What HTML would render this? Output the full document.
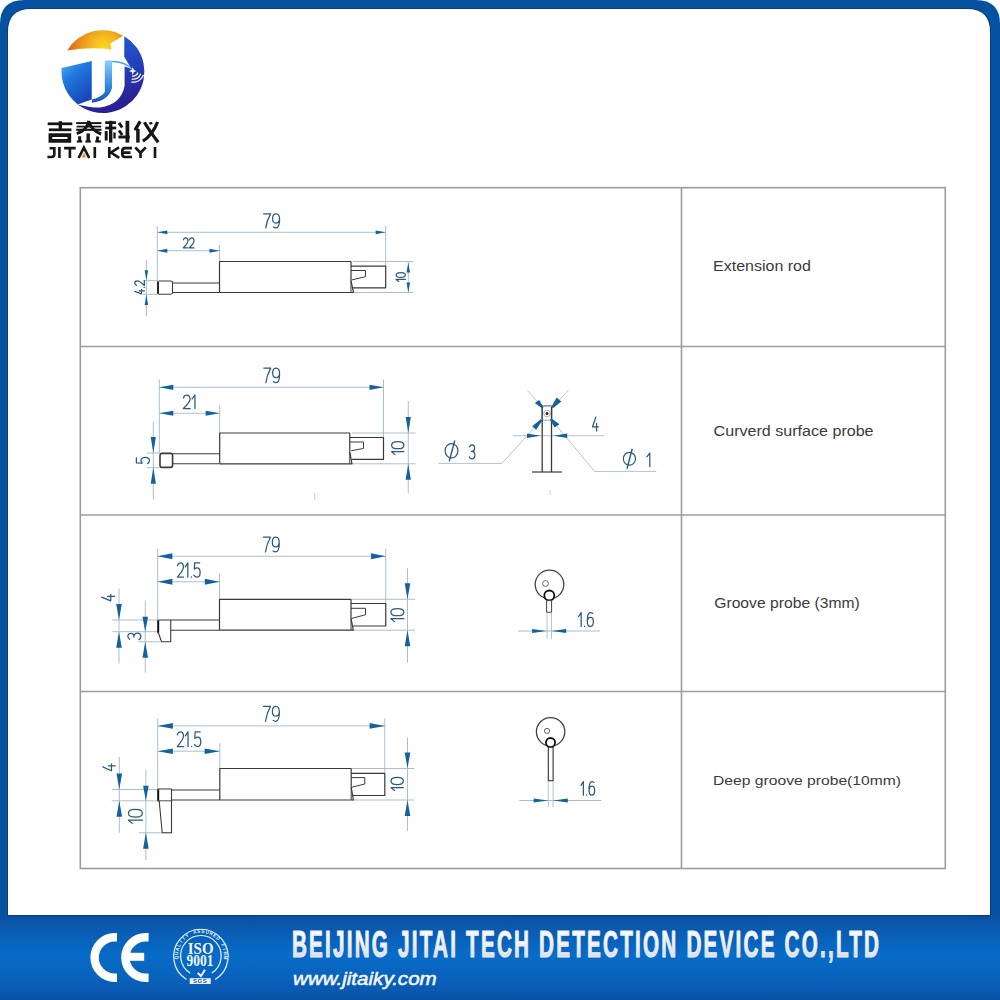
<!DOCTYPE html>
<html><head><meta charset="utf-8"><title>Probes</title>
<style>
html,body{margin:0;padding:0;width:1000px;height:1000px;overflow:hidden;background:#ffffff}
svg{display:block;position:absolute;left:0;top:0}
text{font-family:"Liberation Sans",sans-serif}
</style></head><body>
<svg width="1000" height="1000" viewBox="0 0 1000 1000">
<defs>
<linearGradient id="ban" x1="0" y1="0" x2="0" y2="1">
<stop offset="0" stop-color="#0a50a0"/><stop offset="0.12" stop-color="#0a58ad"/><stop offset="0.47" stop-color="#076cc8"/><stop offset="0.75" stop-color="#0962bb"/><stop offset="1" stop-color="#0a52a6"/>
</linearGradient>
<linearGradient id="silver" x1="0" y1="0" x2="0" y2="1">
<stop offset="0" stop-color="#ffffff"/><stop offset="0.5" stop-color="#f2f3f6"/><stop offset="1" stop-color="#cfd3dc"/>
</linearGradient>
<linearGradient id="lgblue" x1="0" y1="0" x2="1" y2="1">
<stop offset="0" stop-color="#3aa0ec"/><stop offset="0.45" stop-color="#1f6fd6"/><stop offset="1" stop-color="#2b2a9e"/>
</linearGradient>
<linearGradient id="lgL" x1="0" y1="0" x2="0.6" y2="1">
<stop offset="0" stop-color="#4fb0f2"/><stop offset="0.4" stop-color="#1f78dc"/><stop offset="1" stop-color="#1848b8"/>
</linearGradient>
<linearGradient id="lgM" x1="0" y1="0" x2="0" y2="1">
<stop offset="0" stop-color="#8ccff8"/><stop offset="0.6" stop-color="#2f88e0"/><stop offset="1" stop-color="#1b4fbf"/>
</linearGradient>
<linearGradient id="lgR" x1="0" y1="0" x2="0.3" y2="1">
<stop offset="0" stop-color="#1a66d6"/><stop offset="0.5" stop-color="#2346c0"/><stop offset="1" stop-color="#2a1f95"/>
</linearGradient>
<radialGradient id="lgorange" gradientUnits="userSpaceOnUse" cx="104" cy="48" r="42">
<stop offset="0" stop-color="#f8de1a"/><stop offset="0.3" stop-color="#f4b81e"/><stop offset="0.6" stop-color="#ec8e1c"/><stop offset="1" stop-color="#d2451a"/>
</radialGradient>
</defs>

<path d="M0 24 Q0 0 24 0 L976 0 Q1000 0 1000 24 L1000 1000 L0 1000 Z" fill="#0652a1"/>
<rect x="0" y="915" width="1000" height="85" fill="url(#ban)"/>
<rect x="8" y="915" width="982" height="1.2" fill="#083f80"/>
<path d="M7 32 Q7 8 31 8 L967 8 Q991 8 991 32 L991 916 L7 916 Z" fill="#0a4078"/>
<path d="M8 32 Q8 9 31 9 L967 9 Q990 9 990 32 L990 915 L8 915 Z" fill="#ffffff"/>
<rect x="80.3" y="187.7" width="865" height="680.8" fill="none" stroke="#9c9c9c" stroke-width="1.6"/>
<line x1="80.3" y1="346.5" x2="945.3" y2="346.5" stroke="#9c9c9c" stroke-width="1.6"/>
<line x1="80.3" y1="515" x2="945.3" y2="515" stroke="#9c9c9c" stroke-width="1.6"/>
<line x1="80.3" y1="691.5" x2="945.3" y2="691.5" stroke="#9c9c9c" stroke-width="1.6"/>
<line x1="681.5" y1="188" x2="681.5" y2="868.5" stroke="#9c9c9c" stroke-width="1.6"/>
<text transform="translate(713.12 270.86) scale(1.1104 1)" font-size="14.422" font-weight="normal" font-style="normal" fill="#3b3b3b" >Extension rod</text>
<text transform="translate(713.6 435.6) scale(1.0607 1)" font-size="15.172" font-weight="normal" font-style="normal" fill="#3b3b3b" >Curverd surface probe</text>
<text transform="translate(714.21 608.4) scale(1.0350 1)" font-size="15.172" font-weight="normal" font-style="normal" fill="#3b3b3b" >Groove probe (3mm)</text>
<text transform="translate(713.05 785.3) scale(1.1474 1)" font-size="13.655" font-weight="normal" font-style="normal" fill="#3b3b3b" >Deep groove probe(10mm)</text>
<line x1="157.3" y1="226" x2="157.3" y2="294.5" stroke="#9fb8cc" stroke-width="0.9"/>
<line x1="219.5" y1="245" x2="219.5" y2="261.5" stroke="#9fb8cc" stroke-width="0.9"/>
<line x1="385.7" y1="226" x2="385.7" y2="266.5" stroke="#9fb8cc" stroke-width="0.9"/>
<line x1="157.3" y1="232.3" x2="385.7" y2="232.3" stroke="#9fb8cc" stroke-width="0.9"/>
<path d="M157.3 232.3 L167.3 230.4 L167.3 234.2 Z" fill="#14619f"/>
<path d="M385.7 232.3 L375.7 230.4 L375.7 234.2 Z" fill="#14619f"/>
<path d="M 263.62 213.82 L 270.62 213.82 C 267.82 218.74 266.42 222.96 265.72 227.88 M 273.42 227.03 C 274.33 227.73 275.24 227.88 275.94 227.88 C 278.32 227.88 279.57 224.36 279.57 219.44 C 279.57 215.93 278.32 213.82 276.08 213.82 C 273.84 213.82 272.58 215.93 272.58 218.60 C 272.58 221.41 273.84 223.10 275.94 223.10 C 277.83 223.10 279.23 221.41 279.44 219.44" fill="none" stroke="#2b5a7c" stroke-width="1.25" stroke-linecap="round" stroke-linejoin="round"/>
<line x1="157.3" y1="250.75" x2="219.5" y2="250.75" stroke="#9fb8cc" stroke-width="0.9"/>
<path d="M157.3 250.75 L167.3 248.85 L167.3 252.65 Z" fill="#14619f"/>
<path d="M219.5 250.75 L209.5 248.85 L209.5 252.65 Z" fill="#14619f"/>
<path d="M 183.42 239.88 C 183.89 238.07 184.98 237.88 185.68 237.88 C 187.10 237.88 187.95 239.07 187.95 240.88 C 187.95 242.88 186.63 244.07 183.32 247.88 L 188.04 247.88 M 189.45 239.88 C 189.93 238.07 191.01 237.88 191.72 237.88 C 193.13 237.88 193.98 239.07 193.98 240.88 C 193.98 242.88 192.66 244.07 189.36 247.88 L 194.07 247.88" fill="none" stroke="#2b5a7c" stroke-width="1.25" stroke-linecap="round" stroke-linejoin="round"/>
<line x1="146.4" y1="259.8" x2="146.4" y2="316.5" stroke="#9fb8cc" stroke-width="0.9"/>
<line x1="143" y1="280.6" x2="157.3" y2="280.6" stroke="#9fb8cc" stroke-width="0.9"/>
<line x1="143" y1="294.3" x2="157.3" y2="294.3" stroke="#9fb8cc" stroke-width="0.9"/>
<path d="M146.4 280.3 L144.65 270.3 L148.15 270.3 Z" fill="#14619f"/>
<path d="M146.4 294.6 L144.65 305.1 L148.15 305.1 Z" fill="#14619f"/>
<g transform="translate(134.72 294.18) rotate(-90)">
<circle cx="6.72" cy="9.45" r="0.75" fill="#2b5a7c"/>
<path d="M 2.82 0.00 L 0.38 6.76 L 4.70 6.76 M 3.39 4.34 L 3.39 9.65 M 8.84 1.93 C 9.31 0.19 10.39 0.00 11.10 0.00 C 12.51 0.00 13.36 1.16 13.36 2.90 C 13.36 4.83 12.04 5.98 8.75 9.65 L 13.45 9.65" fill="none" stroke="#2b5a7c" stroke-width="1.25" stroke-linecap="round" stroke-linejoin="round"/>
</g>
<line x1="408.3" y1="261.5" x2="408.3" y2="292.5" stroke="#9fb8cc" stroke-width="0.9"/>
<line x1="353" y1="261.5" x2="413.5" y2="261.5" stroke="#9fb8cc" stroke-width="0.9"/>
<line x1="353" y1="292.5" x2="413.5" y2="292.5" stroke="#9fb8cc" stroke-width="0.9"/>
<path d="M408.3 262.5 L406.55 272.5 L410.05 272.5 Z" fill="#14619f"/>
<path d="M408.3 292.5 L406.55 282.5 L410.05 282.5 Z" fill="#14619f"/>
<g transform="translate(396.12 281.38) rotate(-90)">
<path d="M 0.00 2.59 L 1.97 0.00 L 1.97 9.25 M 6.36 0.00 C 4.21 0.00 3.97 2.77 3.97 4.62 C 3.97 6.47 4.21 9.25 6.36 9.25 C 8.51 9.25 8.75 6.47 8.75 4.62 C 8.75 2.77 8.51 0.00 6.36 0.00 Z" fill="none" stroke="#2b5a7c" stroke-width="1.25" stroke-linecap="round" stroke-linejoin="round"/>
</g>
<path d="M219.5 292.5 L219.5 261.5 L351 261.5 L351 281 L353.5 292.5 L219.5 292.5" stroke="#3a3a3a" stroke-width="1.2" fill="none" stroke-linejoin="round"/>
<line x1="351" y1="281" x2="351" y2="292.5" stroke="#3a3a3a" stroke-width="1.0"/>
<path d="M351 266.2 L385.7 266.2 L385.7 287.8 L352.5 287.8" stroke="#3a3a3a" stroke-width="1.2" fill="none" stroke-linejoin="round"/>
<path d="M351 270.5 L365.5 270.5 L365.5 276.7 L351.5 280" stroke="#3a3a3a" stroke-width="1.0" fill="none" stroke-linejoin="round"/>
<line x1="172.5" y1="283" x2="219.5" y2="283" stroke="#3a3a3a" stroke-width="1.1"/>
<line x1="172.5" y1="292.5" x2="219.5" y2="292.5" stroke="#3a3a3a" stroke-width="1.1"/>
<rect x="157.6" y="281" width="14.9" height="13.2" rx="1.6" fill="#fff" stroke="#3a3a3a" stroke-width="1.1"/>
<line x1="158.2" y1="282" x2="158.2" y2="293.4" stroke="#222" stroke-width="1.6"/>
<line x1="159.3" y1="379.5" x2="159.3" y2="453" stroke="#9fb8cc" stroke-width="0.9"/>
<line x1="219.7" y1="405" x2="219.7" y2="433" stroke="#9fb8cc" stroke-width="0.9"/>
<line x1="383.5" y1="379.5" x2="383.5" y2="437.5" stroke="#9fb8cc" stroke-width="0.9"/>
<line x1="159.3" y1="387.3" x2="383.5" y2="387.3" stroke="#9fb8cc" stroke-width="0.9"/>
<path d="M159.3 387.3 L173.3 384.7 L173.3 389.9 Z" fill="#14619f"/>
<path d="M383.5 387.3 L369.5 384.7 L369.5 389.9 Z" fill="#14619f"/>
<path d="M 263.82 368.12 L 270.73 368.12 C 267.97 373.18 266.59 377.52 265.90 382.57 M 273.50 381.71 C 274.39 382.43 275.29 382.57 275.98 382.57 C 278.33 382.57 279.57 378.96 279.57 373.90 C 279.57 370.29 278.33 368.12 276.12 368.12 C 273.91 368.12 272.67 370.29 272.67 373.04 C 272.67 375.93 273.91 377.66 275.98 377.66 C 277.85 377.66 279.23 375.93 279.44 373.90" fill="none" stroke="#2b5a7c" stroke-width="1.25" stroke-linecap="round" stroke-linejoin="round"/>
<line x1="159.3" y1="413.25" x2="219.7" y2="413.25" stroke="#9fb8cc" stroke-width="0.9"/>
<path d="M159.3 413.25 L173.3 410.65 L173.3 415.85 Z" fill="#14619f"/>
<path d="M219.7 413.25 L205.7 410.65 L205.7 415.85 Z" fill="#14619f"/>
<path d="M 183.46 397.81 C 184.15 395.39 185.73 395.12 186.75 395.12 C 188.81 395.12 190.05 396.74 190.05 399.16 C 190.05 401.85 188.13 403.46 183.32 408.57 L 190.18 408.57 M 192.10 398.89 L 194.93 395.12 L 194.93 408.57" fill="none" stroke="#2b5a7c" stroke-width="1.25" stroke-linecap="round" stroke-linejoin="round"/>
<line x1="153.3" y1="421.5" x2="153.3" y2="499.5" stroke="#9fb8cc" stroke-width="0.9"/>
<line x1="147" y1="453" x2="159.5" y2="453" stroke="#9fb8cc" stroke-width="0.9"/>
<line x1="147" y1="467.7" x2="159.5" y2="467.7" stroke="#9fb8cc" stroke-width="0.9"/>
<path d="M153.3 453 L150.7 437 L155.9 437 Z" fill="#14619f"/>
<path d="M153.3 467.7 L150.7 483.7 L155.9 483.7 Z" fill="#14619f"/>
<g transform="translate(136.38 463.62) rotate(-90)">
<path d="M 5.75 0.00 L 0.75 0.00 L 0.38 5.72 C 1.56 4.81 2.50 4.68 3.25 4.68 C 5.31 4.68 6.25 6.50 6.25 8.84 C 6.25 11.44 5.00 13.00 3.12 13.00 C 1.88 13.00 0.75 12.48 0.00 11.18" fill="none" stroke="#2b5a7c" stroke-width="1.25" stroke-linecap="round" stroke-linejoin="round"/>
</g>
<line x1="408.25" y1="401" x2="408.25" y2="493.5" stroke="#9fb8cc" stroke-width="0.9"/>
<line x1="352" y1="433" x2="415.75" y2="433" stroke="#9fb8cc" stroke-width="0.9"/>
<line x1="352" y1="463.8" x2="415.75" y2="463.8" stroke="#9fb8cc" stroke-width="0.9"/>
<path d="M408.25 433 L405.65 417 L410.85 417 Z" fill="#14619f"/>
<path d="M408.25 463.8 L405.65 479.8 L410.85 479.8 Z" fill="#14619f"/>
<g transform="translate(391.62 454.62) rotate(-90)">
<path d="M 0.00 3.43 L 2.93 0.00 L 2.93 12.25 M 9.45 0.00 C 6.25 0.00 5.90 3.67 5.90 6.12 C 5.90 8.57 6.25 12.25 9.45 12.25 C 12.64 12.25 13.00 8.57 13.00 6.12 C 13.00 3.67 12.64 0.00 9.45 0.00 Z" fill="none" stroke="#2b5a7c" stroke-width="1.25" stroke-linecap="round" stroke-linejoin="round"/>
</g>
<path d="M219.7 463.8 L219.7 433 L349.75 433 L349.75 452 L352 463.8 L219.7 463.8" stroke="#3a3a3a" stroke-width="1.2" fill="none" stroke-linejoin="round"/>
<line x1="349.75" y1="452" x2="349.75" y2="463.8" stroke="#3a3a3a" stroke-width="1.0"/>
<path d="M349.75 437.5 L383.5 437.5 L383.5 459.3 L351.5 459.3" stroke="#3a3a3a" stroke-width="1.2" fill="none" stroke-linejoin="round"/>
<path d="M349.75 442 L363.5 442 L363.5 448.5 L351.2 450.75" stroke="#3a3a3a" stroke-width="1.0" fill="none" stroke-linejoin="round"/>
<line x1="172.5" y1="453.75" x2="219.7" y2="453.75" stroke="#3a3a3a" stroke-width="1.1"/>
<line x1="172.5" y1="463.8" x2="219.7" y2="463.8" stroke="#3a3a3a" stroke-width="1.1"/>
<rect x="160" y="453.4" width="12.6" height="14" rx="2.2" fill="#fff" stroke="#3a3a3a" stroke-width="1.6"/>
<line x1="314.8" y1="492.75" x2="314.8" y2="500" stroke="#c8c8c8" stroke-width="1"/>
<line x1="527.5" y1="390.5" x2="542.5" y2="407.5" stroke="#b0b8bc" stroke-width="0.8"/>
<line x1="568.5" y1="390" x2="552.5" y2="407.5" stroke="#b0b8bc" stroke-width="0.8"/>
<line x1="541.5" y1="420" x2="502" y2="463.3" stroke="#a9bcc8" stroke-width="0.9"/>
<line x1="551" y1="419" x2="594.6" y2="471.4" stroke="#a9bcc8" stroke-width="0.9"/>
<line x1="438.5" y1="463.4" x2="502" y2="463.4" stroke="#a9bcc8" stroke-width="0.9"/>
<line x1="594.6" y1="471.4" x2="656.2" y2="471.4" stroke="#a9bcc8" stroke-width="0.9"/>
<line x1="512.8" y1="435.7" x2="604.2" y2="435.7" stroke="#a9bcc8" stroke-width="0.9"/>
<line x1="532" y1="472" x2="562" y2="472" stroke="#3a3a3a" stroke-width="1.2"/>
<rect x="541.8" y="405.8" width="10.2" height="14.4" rx="1.5" fill="#fff" stroke="#9a9a9a" stroke-width="0.9"/>
<line x1="542" y1="405.8" x2="552" y2="405.8" stroke="#999" stroke-width="1.6"/>
<circle cx="547" cy="413.5" r="3.3" fill="none" stroke="#999" stroke-width="0.8"/>
<circle cx="547" cy="413.5" r="1.5" fill="#222"/>
<line x1="542.2" y1="407" x2="542.2" y2="472" stroke="#3a3a3a" stroke-width="1.3"/>
<line x1="551.5" y1="407" x2="551.5" y2="472" stroke="#3a3a3a" stroke-width="1.3"/>
<path d="M541.94 408.33 L534.84 403.04 L539.16 399.96 L543.56 407.17 Z" fill="#14619f"/>
<path d="M551.5 406.84 L556.62 397.42 L561.38 401.58 L553 408.16 Z" fill="#14619f"/>
<path d="M540.77 419.32 L532.13 426.16 L536.12 429.84 L542.23 420.68 Z" fill="#14619f"/>
<path d="M549.93 419.57 L554.59 427.53 L559.41 424.22 L551.57 418.43 Z" fill="#14619f"/>
<path d="M540.5 435.75 L527 433.5 L527 438 Z" fill="#14619f"/>
<path d="M553.5 435.75 L567.25 433.5 L567.25 438 Z" fill="#14619f"/>
<path d="M 595.84 417.02 L 592.53 426.79 L 598.38 426.79 M 596.60 423.30 L 596.60 430.98" fill="none" stroke="#2b5a7c" stroke-width="1.25" stroke-linecap="round" stroke-linejoin="round"/>
<ellipse cx="451.5" cy="450.75" rx="6.4" ry="7.2" fill="none" stroke="#2b5a7c" stroke-width="1.2"/>
<line x1="454.75" y1="440.5" x2="449.25" y2="461.25" stroke="#2b5a7c" stroke-width="1.4"/>
<path d="M 469.60 446.83 C 470.20 445.15 471.30 444.88 472.12 444.88 C 473.77 444.88 474.60 446.56 474.60 448.38 C 474.60 450.48 473.50 451.45 471.57 451.45 C 473.77 451.45 474.88 453.00 474.88 455.10 C 474.88 457.48 473.77 458.88 472.12 458.88 C 471.02 458.88 469.93 458.18 469.38 456.92" fill="none" stroke="#2b5a7c" stroke-width="1.25" stroke-linecap="round" stroke-linejoin="round"/>
<ellipse cx="629.4" cy="458.8" rx="6.1" ry="6.4" fill="none" stroke="#2b5a7c" stroke-width="1.2"/>
<line x1="632.2" y1="448.8" x2="627" y2="468.8" stroke="#2b5a7c" stroke-width="1.4"/>
<path d="M 646.83 456.82 L 649.79 453.02 L 649.79 466.57" fill="none" stroke="#2b5a7c" stroke-width="1.25" stroke-linecap="round" stroke-linejoin="round"/>
<line x1="550" y1="490" x2="550" y2="495" stroke="#c8c8c8" stroke-width="0.8"/>
<line x1="157.7" y1="548.75" x2="157.7" y2="620" stroke="#9fb8cc" stroke-width="0.9"/>
<line x1="219.5" y1="573.5" x2="219.5" y2="599.3" stroke="#9fb8cc" stroke-width="0.9"/>
<line x1="385.75" y1="548.75" x2="385.75" y2="603.5" stroke="#9fb8cc" stroke-width="0.9"/>
<line x1="157.7" y1="556.25" x2="385.75" y2="556.25" stroke="#9fb8cc" stroke-width="0.9"/>
<path d="M157.7 556.25 L172.4 553.25 L172.4 559.25 Z" fill="#14619f"/>
<path d="M385.75 556.25 L371.05 553.25 L371.05 559.25 Z" fill="#14619f"/>
<path d="M 263.43 537.23 L 270.38 537.23 C 267.60 542.35 266.21 546.75 265.51 551.88 M 273.16 551.00 C 274.06 551.73 274.96 551.88 275.66 551.88 C 278.02 551.88 279.27 548.21 279.27 543.09 C 279.27 539.42 278.02 537.23 275.80 537.23 C 273.57 537.23 272.32 539.42 272.32 542.21 C 272.32 545.14 273.57 546.89 275.66 546.89 C 277.54 546.89 278.93 545.14 279.14 543.09" fill="none" stroke="#2b5a7c" stroke-width="1.25" stroke-linecap="round" stroke-linejoin="round"/>
<line x1="157.7" y1="581.75" x2="219.5" y2="581.75" stroke="#9fb8cc" stroke-width="0.9"/>
<path d="M157.7 581.75 L172.4 578.75 L172.4 584.75 Z" fill="#14619f"/>
<path d="M219.5 581.75 L204.8 578.75 L204.8 584.75 Z" fill="#14619f"/>
<circle cx="191.31" cy="576.88" r="0.75" fill="#2b5a7c"/>
<path d="M 177.50 565.72 C 178.11 563.16 179.53 562.88 180.46 562.88 C 182.31 562.88 183.42 564.58 183.42 567.13 C 183.42 569.98 181.69 571.68 177.38 577.08 L 183.54 577.08 M 185.27 566.85 L 187.81 562.88 L 187.81 577.08 M 199.63 562.88 L 194.70 562.88 L 194.33 569.12 C 195.50 568.13 196.43 567.99 197.17 567.99 C 199.20 567.99 200.12 569.98 200.12 572.53 C 200.12 575.37 198.89 577.08 197.04 577.08 C 195.81 577.08 194.70 576.51 193.96 575.09" fill="none" stroke="#2b5a7c" stroke-width="1.25" stroke-linecap="round" stroke-linejoin="round"/>
<line x1="119" y1="588.5" x2="119" y2="663.5" stroke="#9fb8cc" stroke-width="0.9"/>
<line x1="112.25" y1="620" x2="157.7" y2="620" stroke="#9fb8cc" stroke-width="0.9"/>
<line x1="112.25" y1="631.7" x2="157.7" y2="631.7" stroke="#9fb8cc" stroke-width="0.9"/>
<path d="M119 620 L116.2 604 L121.8 604 Z" fill="#14619f"/>
<path d="M119 631.7 L116.2 647.7 L121.8 647.7 Z" fill="#14619f"/>
<g transform="translate(101.62 601.38) rotate(-90)">
<path d="M 4.20 0.00 L 0.56 9.10 L 7.00 9.10 M 5.04 5.85 L 5.04 13.00" fill="none" stroke="#2b5a7c" stroke-width="1.25" stroke-linecap="round" stroke-linejoin="round"/>
</g>
<line x1="145.25" y1="600.5" x2="145.25" y2="672.5" stroke="#9fb8cc" stroke-width="0.9"/>
<line x1="138.5" y1="641.75" x2="160" y2="641.75" stroke="#9fb8cc" stroke-width="0.9"/>
<path d="M145.25 631.7 L142.45 616.7 L148.05 616.7 Z" fill="#14619f"/>
<path d="M145.25 641.75 L142.45 657.75 L148.05 657.75 Z" fill="#14619f"/>
<line x1="157.9" y1="631.8" x2="170.75" y2="631.8" stroke="#3a3a3a" stroke-width="0.9"/>
<g transform="translate(127.88 639.62) rotate(-90)">
<path d="M 0.26 1.82 C 0.99 0.26 2.31 0.00 3.30 0.00 C 5.28 0.00 6.27 1.56 6.27 3.25 C 6.27 5.20 4.95 6.11 2.64 6.11 C 5.28 6.11 6.60 7.54 6.60 9.49 C 6.60 11.70 5.28 13.00 3.30 13.00 C 1.98 13.00 0.66 12.35 0.00 11.18" fill="none" stroke="#2b5a7c" stroke-width="1.25" stroke-linecap="round" stroke-linejoin="round"/>
</g>
<line x1="407.5" y1="568.25" x2="407.5" y2="662.75" stroke="#9fb8cc" stroke-width="0.9"/>
<line x1="352" y1="599.3" x2="415" y2="599.3" stroke="#9fb8cc" stroke-width="0.9"/>
<line x1="352" y1="630.2" x2="415" y2="630.2" stroke="#9fb8cc" stroke-width="0.9"/>
<path d="M407.5 599.3 L404.7 583.3 L410.3 583.3 Z" fill="#14619f"/>
<path d="M407.5 630.2 L404.7 646.2 L410.3 646.2 Z" fill="#14619f"/>
<g transform="translate(390.88 621.62) rotate(-90)">
<path d="M 0.00 3.64 L 2.93 0.00 L 2.93 13.00 M 9.45 0.00 C 6.25 0.00 5.90 3.90 5.90 6.50 C 5.90 9.10 6.25 13.00 9.45 13.00 C 12.64 13.00 13.00 9.10 13.00 6.50 C 13.00 3.90 12.64 0.00 9.45 0.00 Z" fill="none" stroke="#2b5a7c" stroke-width="1.25" stroke-linecap="round" stroke-linejoin="round"/>
</g>
<path d="M219.5 630.2 L219.5 599.3 L351 599.3 L351 618.5 L353.3 630.2 L219.5 630.2" stroke="#3a3a3a" stroke-width="1.2" fill="none" stroke-linejoin="round"/>
<line x1="351" y1="618.5" x2="351" y2="630.2" stroke="#3a3a3a" stroke-width="1.0"/>
<path d="M351 603.5 L385.75 603.5 L385.75 626 L352.5 626" stroke="#3a3a3a" stroke-width="1.2" fill="none" stroke-linejoin="round"/>
<path d="M351 608.3 L365.5 608.3 L365.5 614.75 L351.5 618.5" stroke="#3a3a3a" stroke-width="1.0" fill="none" stroke-linejoin="round"/>
<line x1="170.75" y1="620" x2="219.5" y2="620" stroke="#3a3a3a" stroke-width="1.1"/>
<line x1="170.75" y1="630.2" x2="219.5" y2="630.2" stroke="#3a3a3a" stroke-width="1.1"/>
<path d="M157.9 620 L170.75 620 L170.75 641.75 L161.5 641.75 L158.5 633 L157.9 633 L157.9 620" stroke="#3a3a3a" stroke-width="1.1" fill="#fff" stroke-linejoin="round"/>
<line x1="158.3" y1="620.5" x2="158.3" y2="632.5" stroke="#111" stroke-width="1.8"/>
<circle cx="549.5" cy="584.5" r="14.3" fill="none" stroke="#444" stroke-width="1.3"/>
<circle cx="545.5" cy="583.5" r="2.9" fill="none" stroke="#555" stroke-width="0.9"/>
<circle cx="549.3" cy="595.5" r="5" fill="#fff" stroke="#111" stroke-width="1.8"/>
<rect x="546.6" y="600.6" width="5" height="11.6" fill="#fff" stroke="#444" stroke-width="1.0"/>
<line x1="547" y1="612.5" x2="547" y2="639" stroke="#a9bcc8" stroke-width="0.9"/>
<line x1="551.5" y1="612.5" x2="551.5" y2="639" stroke="#a9bcc8" stroke-width="0.9"/>
<line x1="518" y1="631" x2="600" y2="631" stroke="#a9bcc8" stroke-width="1.0"/>
<path d="M546.6 631 L532.1 628.9 L532.1 633.1 Z" fill="#14619f"/>
<path d="M551.6 631 L566.1 628.9 L566.1 633.1 Z" fill="#14619f"/>
<circle cx="584.62" cy="626.17" r="0.75" fill="#2b5a7c"/>
<path d="M 578.62 616.48 L 581.15 612.62 L 581.15 626.38 M 592.64 613.45 C 591.84 612.76 591.05 612.62 590.44 612.62 C 588.36 612.62 587.25 616.06 587.25 620.88 C 587.25 624.31 588.36 626.38 590.31 626.38 C 592.27 626.38 593.38 624.31 593.38 621.70 C 593.38 618.95 592.27 617.30 590.44 617.30 C 588.78 617.30 587.56 618.95 587.38 620.88" fill="none" stroke="#2b5a7c" stroke-width="1.25" stroke-linecap="round" stroke-linejoin="round"/>
<line x1="157.7" y1="718.4" x2="157.7" y2="789.5" stroke="#9fb8cc" stroke-width="0.9"/>
<line x1="219.8" y1="743.2" x2="219.8" y2="768.5" stroke="#9fb8cc" stroke-width="0.9"/>
<line x1="384.8" y1="718.4" x2="384.8" y2="773.3" stroke="#9fb8cc" stroke-width="0.9"/>
<line x1="157.7" y1="725.9" x2="384.8" y2="725.9" stroke="#9fb8cc" stroke-width="0.9"/>
<path d="M157.7 725.9 L172.9 723.1 L172.9 728.7 Z" fill="#14619f"/>
<path d="M384.8 725.9 L369.6 723.1 L369.6 728.7 Z" fill="#14619f"/>
<path d="M 263.43 706.33 L 270.42 706.33 C 267.62 711.56 266.22 716.04 265.52 721.27 M 273.22 720.38 C 274.13 721.13 275.04 721.27 275.74 721.27 C 278.12 721.27 279.38 717.54 279.38 712.31 C 279.38 708.57 278.12 706.33 275.88 706.33 C 273.64 706.33 272.38 708.57 272.38 711.41 C 272.38 714.40 273.64 716.19 275.74 716.19 C 277.63 716.19 279.03 714.40 279.24 712.31" fill="none" stroke="#2b5a7c" stroke-width="1.25" stroke-linecap="round" stroke-linejoin="round"/>
<line x1="157.7" y1="751.2" x2="219.8" y2="751.2" stroke="#9fb8cc" stroke-width="0.9"/>
<path d="M157.7 751.2 L172.9 748.4 L172.9 754 Z" fill="#14619f"/>
<path d="M219.8 751.2 L204.6 748.4 L204.6 754 Z" fill="#14619f"/>
<circle cx="191.65" cy="746.38" r="0.75" fill="#2b5a7c"/>
<path d="M 177.35 734.78 C 177.99 732.12 179.46 731.83 180.42 731.83 C 182.33 731.83 183.48 733.60 183.48 736.25 C 183.48 739.20 181.69 740.97 177.22 746.58 L 183.61 746.58 M 185.39 735.96 L 188.03 731.83 L 188.03 746.58 M 200.26 731.83 L 195.16 731.83 L 194.78 738.32 C 195.99 737.28 196.95 737.13 197.71 737.13 C 199.82 737.13 200.77 739.20 200.77 741.86 C 200.77 744.81 199.50 746.58 197.58 746.58 C 196.31 746.58 195.16 745.99 194.39 744.51" fill="none" stroke="#2b5a7c" stroke-width="1.25" stroke-linecap="round" stroke-linejoin="round"/>
<line x1="119.3" y1="756.8" x2="119.3" y2="832.8" stroke="#9fb8cc" stroke-width="0.9"/>
<line x1="111.8" y1="789.5" x2="157.7" y2="789.5" stroke="#9fb8cc" stroke-width="0.9"/>
<line x1="111.8" y1="800.8" x2="157.7" y2="800.8" stroke="#9fb8cc" stroke-width="0.9"/>
<path d="M119.3 789.5 L116.5 773.5 L122.1 773.5 Z" fill="#14619f"/>
<path d="M119.3 800.8 L116.5 816.8 L122.1 816.8 Z" fill="#14619f"/>
<g transform="translate(102.83 771.38) rotate(-90)">
<path d="M 4.53 0.00 L 0.60 8.64 L 7.55 8.64 M 5.44 5.56 L 5.44 12.35" fill="none" stroke="#2b5a7c" stroke-width="1.25" stroke-linecap="round" stroke-linejoin="round"/>
</g>
<line x1="145.9" y1="769.6" x2="145.9" y2="860" stroke="#9fb8cc" stroke-width="0.9"/>
<line x1="139" y1="832.8" x2="171.5" y2="832.8" stroke="#9fb8cc" stroke-width="0.9"/>
<path d="M145.9 800.8 L143.1 785.8 L148.7 785.8 Z" fill="#14619f"/>
<path d="M145.9 832.8 L143.1 848.8 L148.7 848.8 Z" fill="#14619f"/>
<g transform="translate(128.43 823.38) rotate(-90)">
<path d="M 0.00 3.91 L 3.14 0.00 L 3.14 13.95 M 10.14 0.00 C 6.71 0.00 6.33 4.19 6.33 6.98 C 6.33 9.77 6.71 13.95 10.14 13.95 C 13.57 13.95 13.95 9.77 13.95 6.98 C 13.95 4.19 13.57 0.00 10.14 0.00 Z" fill="none" stroke="#2b5a7c" stroke-width="1.25" stroke-linecap="round" stroke-linejoin="round"/>
</g>
<line x1="407.5" y1="737.6" x2="407.5" y2="831.2" stroke="#9fb8cc" stroke-width="0.9"/>
<line x1="352" y1="768.5" x2="414.4" y2="768.5" stroke="#9fb8cc" stroke-width="0.9"/>
<line x1="352" y1="800" x2="414.4" y2="800" stroke="#9fb8cc" stroke-width="0.9"/>
<path d="M407.5 768.5 L404.7 752.5 L410.3 752.5 Z" fill="#14619f"/>
<path d="M407.5 800 L404.7 816 L410.3 816 Z" fill="#14619f"/>
<g transform="translate(391.02 790.58) rotate(-90)">
<path d="M 0.00 3.46 L 2.96 0.00 L 2.96 12.35 M 9.56 0.00 C 6.32 0.00 5.96 3.71 5.96 6.18 C 5.96 8.65 6.32 12.35 9.56 12.35 C 12.79 12.35 13.15 8.65 13.15 6.18 C 13.15 3.71 12.79 0.00 9.56 0.00 Z" fill="none" stroke="#2b5a7c" stroke-width="1.25" stroke-linecap="round" stroke-linejoin="round"/>
</g>
<path d="M219.8 800 L219.8 768.5 L351.2 768.5 L351.2 787.2 L353.4 800 L219.8 800" stroke="#3a3a3a" stroke-width="1.2" fill="none" stroke-linejoin="round"/>
<line x1="351.2" y1="787.2" x2="351.2" y2="800" stroke="#3a3a3a" stroke-width="1.0"/>
<path d="M351.2 773.3 L384.8 773.3 L384.8 795.5 L352.7 795.5" stroke="#3a3a3a" stroke-width="1.2" fill="none" stroke-linejoin="round"/>
<path d="M351.2 777.6 L364.8 777.6 L364.8 784 L352 787.2" stroke="#3a3a3a" stroke-width="1.0" fill="none" stroke-linejoin="round"/>
<line x1="171.5" y1="790" x2="219.8" y2="790" stroke="#3a3a3a" stroke-width="1.1"/>
<line x1="171.5" y1="800" x2="219.8" y2="800" stroke="#3a3a3a" stroke-width="1.1"/>
<path d="M157.9 789 L171.5 789 L171.5 832.8 L162.2 832.8 L159.2 801 L157.9 801 L157.9 789" stroke="#3a3a3a" stroke-width="1.1" fill="#fff" stroke-linejoin="round"/>
<line x1="158.3" y1="789.5" x2="158.3" y2="800.5" stroke="#111" stroke-width="1.8"/>
<line x1="158" y1="800.8" x2="171.5" y2="800.8" stroke="#3a3a3a" stroke-width="0.9"/>
<circle cx="550.6" cy="731.8" r="14.2" fill="none" stroke="#444" stroke-width="1.3"/>
<circle cx="547" cy="730.9" r="2.6" fill="none" stroke="#555" stroke-width="0.9"/>
<circle cx="550.5" cy="742.6" r="4.6" fill="#fff" stroke="#111" stroke-width="1.8"/>
<rect x="548.3" y="747.3" width="4.8" height="33.4" fill="#fff" stroke="#333" stroke-width="1.1"/>
<line x1="548.3" y1="781" x2="548.3" y2="807.3" stroke="#a9bcc8" stroke-width="0.9"/>
<line x1="553.1" y1="781" x2="553.1" y2="807.3" stroke="#a9bcc8" stroke-width="0.9"/>
<line x1="519.4" y1="800.5" x2="601.3" y2="800.5" stroke="#a9bcc8" stroke-width="1.0"/>
<path d="M548.3 800.5 L533.6 798.4 L533.6 802.6 Z" fill="#14619f"/>
<path d="M553.1 800.5 L567.8 798.4 L567.8 802.6 Z" fill="#14619f"/>
<circle cx="586.58" cy="794.97" r="0.75" fill="#2b5a7c"/>
<path d="M 581.02 785.35 L 583.36 781.52 L 583.36 795.17 M 594.00 782.34 C 593.26 781.66 592.52 781.52 591.96 781.52 C 590.03 781.52 589.01 784.94 589.01 789.71 C 589.01 793.13 590.03 795.17 591.84 795.17 C 593.66 795.17 594.67 793.13 594.67 790.53 C 594.67 787.80 593.66 786.17 591.96 786.17 C 590.43 786.17 589.29 787.80 589.12 789.71" fill="none" stroke="#2b5a7c" stroke-width="1.25" stroke-linecap="round" stroke-linejoin="round"/>
<path d="M61.6 68 L91.75 61 L91.75 99.6 Q85 102 77.85 104.4 A41.3 41.3 0 0 1 61.6 68 Z" fill="url(#lgL)"/>
<path d="M104.8 60.5 L112 60.5 L112 88 Q108.5 100.5 92 102.8 L91.75 99.6 Q102 97 104.8 92 Z" fill="url(#lgM)"/>
<path d="M124.33 36.29 L124.2 56.7 L131.6 69 L124.6 66.5 L124.6 86 Q121 104.5 100 107.5 Q88 107.5 77.85 104.4 A41.3 41.3 0 1 0 124.33 36.29 Z" fill="url(#lgR)"/>
<path d="M67.23 50.42 A41.3 41.3 0 0 1 123.25 35.64 L110.2 43.6 L111.6 49.5 Q90 46.5 67.23 50.42 Z" fill="url(#lgorange)"/>
<path d="M112 61.5 Q125 61.5 132.5 69.5" fill="none" stroke="#4aa6ee" stroke-width="1.6"/>
<path d="M132.8 66.9 L133.8 69.9 L136.8 70.9 L133.8 71.9 L132.8 74.9 L131.8 71.9 L128.8 70.9 L131.8 69.9 Z" fill="#fff"/>
<path d="M137.75 73.02 A5.2 5.2 0 0 1 132.46 76.07" fill="none" stroke="#fff" stroke-width="1.3" stroke-linecap="round"/>
<path d="M140.49 74.24 A8.2 8.2 0 0 1 132.14 79.06" fill="none" stroke="#fff" stroke-width="1.3" stroke-linecap="round"/>
<path d="M143.23 75.46 A11.2 11.2 0 0 1 131.83 82.04" fill="none" stroke="#fff" stroke-width="1.3" stroke-linecap="round"/>
<path d="M47.7 123.8 H72.3" fill="none" stroke="#161616" stroke-width="2.75" stroke-linecap="butt" stroke-linejoin="miter"/>
<path d="M60.3 121.2 V129.8" fill="none" stroke="#161616" stroke-width="3.35" stroke-linecap="butt" stroke-linejoin="miter"/>
<path d="M48.9 129.8 H71.4" fill="none" stroke="#161616" stroke-width="2.75" stroke-linecap="butt" stroke-linejoin="miter"/>
<path d="M50.4 135.0 H69.3 V140.8 H50.4 Z" fill="none" stroke="#161616" stroke-width="3.75" stroke-linecap="butt" stroke-linejoin="miter"/>
<path d="M76.2 123.1 H101.4" fill="none" stroke="#161616" stroke-width="1.9500000000000002" stroke-linecap="butt" stroke-linejoin="miter"/>
<path d="M76.6 126.6 H101.2" fill="none" stroke="#161616" stroke-width="1.75" stroke-linecap="butt" stroke-linejoin="miter"/>
<path d="M76.2 129.8 H101.4" fill="none" stroke="#161616" stroke-width="2.15" stroke-linecap="butt" stroke-linejoin="miter"/>
<path d="M88.8 120.8 Q87 130.5 76.8 133.6" fill="none" stroke="#161616" stroke-width="2.95" stroke-linecap="butt" stroke-linejoin="miter"/>
<path d="M88.8 121.5 Q91.5 130.5 101.2 134" fill="none" stroke="#161616" stroke-width="2.95" stroke-linecap="butt" stroke-linejoin="miter"/>
<path d="M79.6 136.3 L79.8 141.2" fill="none" stroke="#161616" stroke-width="2.95" stroke-linecap="butt" stroke-linejoin="miter"/>
<path d="M76.8 141.5 H82.2" fill="none" stroke="#161616" stroke-width="2.15" stroke-linecap="butt" stroke-linejoin="miter"/>
<path d="M88.2 133.4 V141" fill="none" stroke="#161616" stroke-width="3.35" stroke-linecap="butt" stroke-linejoin="miter"/>
<path d="M85.4 141.5 H90.9" fill="none" stroke="#161616" stroke-width="2.15" stroke-linecap="butt" stroke-linejoin="miter"/>
<path d="M97.8 136.5 L97.2 141" fill="none" stroke="#161616" stroke-width="2.95" stroke-linecap="butt" stroke-linejoin="miter"/>
<path d="M95.2 141.5 H100.8" fill="none" stroke="#161616" stroke-width="2.15" stroke-linecap="butt" stroke-linejoin="miter"/>
<path d="M105.2 122.6 H116" fill="none" stroke="#161616" stroke-width="2.75" stroke-linecap="butt" stroke-linejoin="miter"/>
<path d="M105.2 128 H116.2" fill="none" stroke="#161616" stroke-width="2.75" stroke-linecap="butt" stroke-linejoin="miter"/>
<path d="M110.7 120.8 V142.6" fill="none" stroke="#161616" stroke-width="3.35" stroke-linecap="butt" stroke-linejoin="miter"/>
<path d="M106.2 131 V140.5" fill="none" stroke="#161616" stroke-width="2.95" stroke-linecap="butt" stroke-linejoin="miter"/>
<path d="M114.5 132.5 V138.5" fill="none" stroke="#161616" stroke-width="2.35" stroke-linecap="butt" stroke-linejoin="miter"/>
<path d="M119 122.8 L122.2 127.5" fill="none" stroke="#161616" stroke-width="2.95" stroke-linecap="butt" stroke-linejoin="miter"/>
<path d="M119 130.5 L122.2 135" fill="none" stroke="#161616" stroke-width="2.95" stroke-linecap="butt" stroke-linejoin="miter"/>
<path d="M118.4 137 H129.8" fill="none" stroke="#161616" stroke-width="2.95" stroke-linecap="butt" stroke-linejoin="miter"/>
<path d="M127.4 120.8 V142.6" fill="none" stroke="#161616" stroke-width="3.75" stroke-linecap="butt" stroke-linejoin="miter"/>
<path d="M140.2 121.4 L135.2 129.6" fill="none" stroke="#161616" stroke-width="3.25" stroke-linecap="butt" stroke-linejoin="miter"/>
<path d="M134.2 129.4 H138.6" fill="none" stroke="#161616" stroke-width="1.9500000000000002" stroke-linecap="butt" stroke-linejoin="miter"/>
<path d="M137.9 129 V142.6" fill="none" stroke="#161616" stroke-width="3.45" stroke-linecap="butt" stroke-linejoin="miter"/>
<ellipse cx="150.8" cy="123.2" rx="1.7" ry="1.3" fill="#161616"/>
<path d="M144.4 122.3 Q149.5 131 158.2 142.3" fill="none" stroke="#161616" stroke-width="3.25" stroke-linecap="butt" stroke-linejoin="miter"/>
<path d="M157.6 122 Q152.5 135 142.9 141.2" fill="none" stroke="#161616" stroke-width="3.25" stroke-linecap="butt" stroke-linejoin="miter"/>
<path d="M49.6 148.2 H54.3 V154.2 Q54.3 157 51.4 157 H47.4" fill="none" stroke="#161616" stroke-width="2.65" stroke-linecap="butt" stroke-linejoin="miter"/>
<path d="M59.4 147 V158" fill="none" stroke="#161616" stroke-width="2.65" stroke-linecap="butt" stroke-linejoin="miter"/>
<path d="M64.1 148.1 H75.7 M69.9 148 V158" fill="none" stroke="#161616" stroke-width="2.65" stroke-linecap="butt" stroke-linejoin="miter"/>
<path d="M78.6 158 L83.9 147.6 L89.2 158" fill="none" stroke="#161616" stroke-width="2.65" stroke-linecap="butt" stroke-linejoin="miter"/>
<path d="M83.9 152.4 L81.6 157.4 L86.2 157.4 Z" fill="#e0902a"/>
<path d="M94.8 147 V158" fill="none" stroke="#161616" stroke-width="2.65" stroke-linecap="butt" stroke-linejoin="miter"/>
<path d="M109.3 147 V158 M119 147.4 L111 152.5 L119.2 157.8" fill="none" stroke="#161616" stroke-width="2.65" stroke-linecap="butt" stroke-linejoin="miter"/>
<path d="M132 148.1 H125 Q122.3 148.1 122.3 151 V154.2 Q122.3 157 125 157 H132 M122.6 152.6 H130.5" fill="none" stroke="#161616" stroke-width="2.65" stroke-linecap="butt" stroke-linejoin="miter"/>
<path d="M135.2 147.4 L140.5 152.8 L145.8 147.4 M140.5 152.6 V158" fill="none" stroke="#161616" stroke-width="2.65" stroke-linecap="butt" stroke-linejoin="miter"/>
<path d="M155 147 V158" fill="none" stroke="#161616" stroke-width="2.65" stroke-linecap="butt" stroke-linejoin="miter"/>
<path d="M117 937.3 H114.8 A20.2 20.2 0 0 0 114.8 977.7 H117" fill="none" stroke="#fff" stroke-width="8.4"/>
<path d="M148.6 937.3 H145.6 A20.2 20.2 0 0 0 145.6 977.7 H148.6" fill="none" stroke="#fff" stroke-width="8.4"/>
<path d="M128 956.8 H144.2" fill="none" stroke="#fff" stroke-width="8"/>
<path d="M186.6 979.6 A27.2 27.2 0 1 1 215.2 979.6" fill="none" stroke="#e8f2ff" stroke-width="1.2"/>
<path d="M190.1 973 A20.3 20.3 0 1 1 211.7 973" fill="none" stroke="#e8f2ff" stroke-width="1.2"/>
<text transform="translate(178.06 957.40) rotate(266.0)" font-size="4.7" font-weight="bold" fill="#e8f2ff" text-anchor="middle">Q</text>
<text transform="translate(178.12 953.45) rotate(275.9)" font-size="4.7" font-weight="bold" fill="#e8f2ff" text-anchor="middle">U</text>
<text transform="translate(178.86 949.57) rotate(285.8)" font-size="4.7" font-weight="bold" fill="#e8f2ff" text-anchor="middle">A</text>
<text transform="translate(180.26 945.87) rotate(295.7)" font-size="4.7" font-weight="bold" fill="#e8f2ff" text-anchor="middle">L</text>
<text transform="translate(182.28 942.48) rotate(305.6)" font-size="4.7" font-weight="bold" fill="#e8f2ff" text-anchor="middle">I</text>
<text transform="translate(184.84 939.47) rotate(315.5)" font-size="4.7" font-weight="bold" fill="#e8f2ff" text-anchor="middle">T</text>
<text transform="translate(187.89 936.96) rotate(325.4)" font-size="4.7" font-weight="bold" fill="#e8f2ff" text-anchor="middle">Y</text>
<text transform="translate(195.03 933.66) rotate(345.2)" font-size="4.7" font-weight="bold" fill="#e8f2ff" text-anchor="middle">A</text>
<text transform="translate(198.93 932.99) rotate(355.1)" font-size="4.7" font-weight="bold" fill="#e8f2ff" text-anchor="middle">S</text>
<text transform="translate(202.87 932.99) rotate(364.9)" font-size="4.7" font-weight="bold" fill="#e8f2ff" text-anchor="middle">S</text>
<text transform="translate(206.77 933.66) rotate(374.8)" font-size="4.7" font-weight="bold" fill="#e8f2ff" text-anchor="middle">U</text>
<text transform="translate(210.48 935.00) rotate(384.7)" font-size="4.7" font-weight="bold" fill="#e8f2ff" text-anchor="middle">R</text>
<text transform="translate(213.91 936.96) rotate(394.6)" font-size="4.7" font-weight="bold" fill="#e8f2ff" text-anchor="middle">E</text>
<text transform="translate(216.96 939.47) rotate(404.5)" font-size="4.7" font-weight="bold" fill="#e8f2ff" text-anchor="middle">D</text>
<text transform="translate(221.54 945.87) rotate(424.3)" font-size="4.7" font-weight="bold" fill="#e8f2ff" text-anchor="middle">F</text>
<text transform="translate(222.94 949.57) rotate(434.2)" font-size="4.7" font-weight="bold" fill="#e8f2ff" text-anchor="middle">I</text>
<text transform="translate(223.68 953.45) rotate(444.1)" font-size="4.7" font-weight="bold" fill="#e8f2ff" text-anchor="middle">R</text>
<text transform="translate(223.74 957.40) rotate(454.0)" font-size="4.7" font-weight="bold" fill="#e8f2ff" text-anchor="middle">M</text>
<text transform="translate(187.78 953.54) scale(0.9183 1)" font-size="16.269" font-weight="bold" font-style="normal" fill="#f0f6ff"  style="font-family:'Liberation Serif',serif">ISO</text>
<text transform="translate(186.56 966.13) scale(0.8109 1)" font-size="16.593" font-weight="bold" font-style="normal" fill="#f0f6ff"  style="font-family:'Liberation Serif',serif">9001</text>
<path d="M197.8 972.8 L200.9 976.2 L205 969.8" fill="none" stroke="#f0f6ff" stroke-width="2"/>
<rect x="189.7" y="978.2" width="21" height="5.8" fill="#eef4ff"/>
<text x="200.2" y="983.3" font-size="6" font-weight="bold" fill="#1a5db0" text-anchor="middle" letter-spacing="0.6">SGS</text>
<text transform="translate(291.95 957.05) scale(0.5473 1)" font-size="37.857" font-weight="bold" letter-spacing="4.00" fill="url(#silver)" stroke="#e9ecf2" stroke-width="1.10" stroke-linejoin="round">BEIJING JITAI TECH DETECTION DEVICE CO.,LTD</text>
<text transform="translate(293.07 984.5) scale(1.0820 1)" font-size="19.034" font-weight="normal" font-style="italic" fill="#f4f6fa" stroke="#f4f6fa" stroke-width="0.55" stroke-linejoin="round">www.jitaiky.com</text>
</svg></body></html>
